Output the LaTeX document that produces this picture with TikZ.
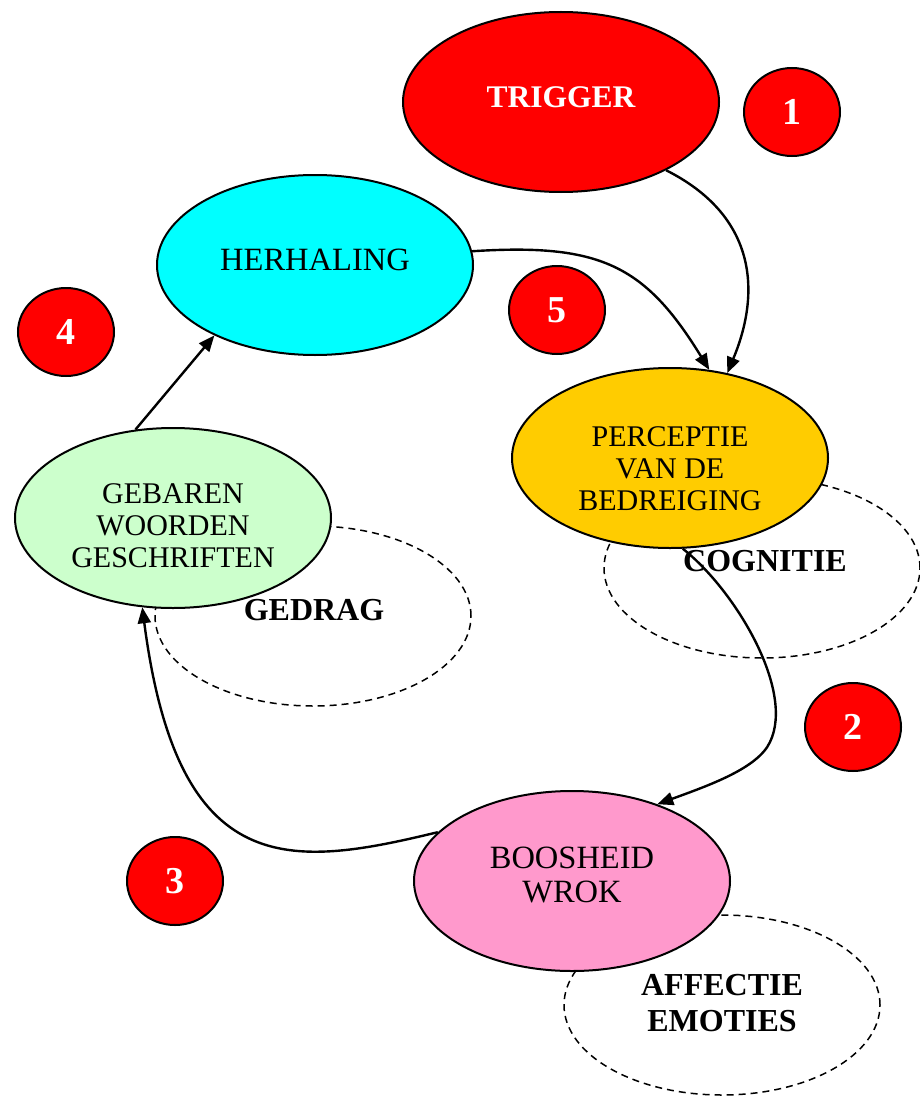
\documentclass[tikz,border=0pt]{standalone}
\usepackage{fontspec}
\setmainfont{Liberation Serif}
\usetikzlibrary{shapes.geometric,arrows.meta}
\definecolor{trigred}{HTML}{FF0000}
\definecolor{herhcyan}{HTML}{00FFFF}
\definecolor{percorange}{HTML}{FFCC00}
\definecolor{gebgreen}{HTML}{CCFFCC}
\definecolor{boospink}{HTML}{FF99CC}
\tikzset{
  bigoval/.style={ellipse, draw=black, line width=2pt, minimum width=316pt, minimum height=180pt, inner sep=0pt},
  numoval/.style={ellipse, draw=black, line width=2pt, fill=trigred, minimum width=96pt, minimum height=88pt, inner sep=0pt,
    text=white, font=\fontsize{38}{40}\selectfont\bfseries},
  zone/.style={ellipse, draw=black, line width=1.5pt, dash pattern=on 7pt off 5pt, minimum width=316pt, minimum height=180pt, inner sep=0pt},
  txt/.style={align=center, inner sep=0pt, font=\fontsize{30}{32}\selectfont},
  zonetxt/.style={align=center, inner sep=0pt, font=\fontsize{32}{36}\selectfont\bfseries},
  arr/.style={line width=2.4pt, -{Triangle[length=16pt,width=13pt]}}
}
\begin{document}
\begin{tikzpicture}[x=1pt,y=-1pt]
\useasboundingbox (0,0) rectangle (919,1097);

% dashed domains behind the stages
\node[zone] (cogzone) at (762,568) {};
\node[zone] (gedzone) at (313,616) {};
\node[zone] (affzone) at (722,1005) {};

% stages of the cycle
\node[bigoval, fill=trigred]    (trig) at (561,102) {};
\node[bigoval, fill=herhcyan]   (herh) at (315,265) {};
\node[bigoval, fill=percorange] (perc) at (670,458) {};
\node[bigoval, fill=gebgreen]   (geb)  at (173,518) {};
\node[bigoval, fill=boospink]   (boos) at (572,881) {};

% connectors
\draw[arr] (trig.-33) .. controls (755,215) and (762,290) .. (perc.56);
\draw[arr] (herh.5) .. controls (600,243) and (645,265) .. (perc.66);
\draw[arr] (perc.-82) .. controls (735,590) and (795,690) .. (770,742)
  .. controls (758,768) and (710,785) .. (boos.42);
\draw[arr] (boos.160) .. controls (290,868) and (178,882) .. (geb.-109);
\draw[arr] (geb.113) -- (herh.-145);

% stage labels
\node[txt, text=white, font=\fontsize{31.5}{32}\selectfont\bfseries] (trigt) at (561,97) {TRIGGER};
\node[txt, font=\fontsize{32.5}{32}\selectfont] (herht) at (315,260) {HERHALING};
\node[txt] (perct) at (670,469) {PERCEPTIE\\VAN DE\\BEDREIGING};
\node[txt] (gebt) at (173,526) {GEBAREN\\WOORDEN\\GESCHRIFTEN};
\node[txt, font=\fontsize{32.5}{34}\selectfont] (boost) at (572,875) {BOOSHEID\\WROK};

% domain labels
\node[zonetxt] (cogt) at (765,561) {COGNITIE};
\node[zonetxt] (gedt) at (314,610) {GEDRAG};
\node[zonetxt] (afft) at (722,1003) {AFFECTIE\\EMOTIES};

% step numbers
\node[numoval] (n1) at (792,112) {1};
\node[numoval] (n2) at (853,727) {2};
\node[numoval] (n3) at (175,881) {3};
\node[numoval] (n4) at (66,332)  {4};
\node[numoval] (n5) at (557,310) {5};
\end{tikzpicture}
\end{document}
